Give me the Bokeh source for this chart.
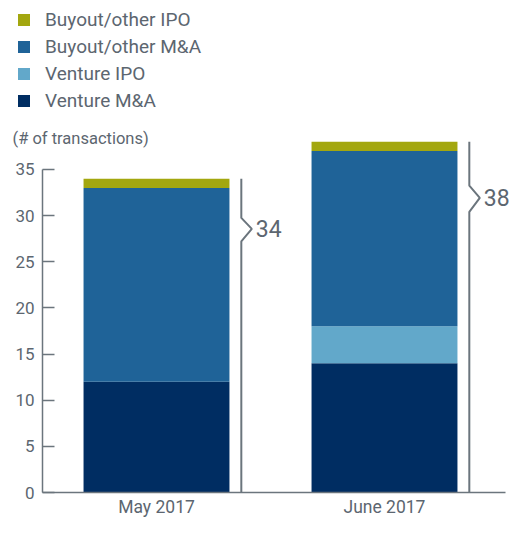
from bokeh.plotting import figure
from bokeh.models import (ColumnDataSource, Range1d, FixedTicker, Legend, LegendItem, Label)
from bokeh.core.properties import value
from bokeh.embed import file_html
from bokeh.resources import INLINE

# ---- data ----
months = ["May 2017", "June 2017"]
venture_ma = [12, 14]
venture_ipo = [0, 4]
buyout_ma = [21, 19]
buyout_ipo = [1, 1]
y_ticks = [0, 5, 10, 15, 20, 25, 30, 35]

series = ["venture_ma", "venture_ipo", "buyout_ma", "buyout_ipo"]
series_labels = ["Venture M&A", "Venture IPO", "Buyout/other M&A", "Buyout/other IPO"]
colors = ["#002d62", "#62a8ca", "#1f6398", "#a3a70f"]

FONT = "Roboto"
TXT = "#5c6670"
LINE = "#6b757d"

xpos = [i + 1 for i in range(len(months))]
totals = [a + b + c + d for a, b, c, d in zip(venture_ma, venture_ipo, buyout_ma, buyout_ipo)]

src = ColumnDataSource(dict(x=xpos, venture_ma=venture_ma, venture_ipo=venture_ipo,
                            buyout_ma=buyout_ma, buyout_ipo=buyout_ipo))

W, H = 515, 521
XU, YU = 228.0, 9.23          # pixels per data unit
x0 = 0.5 - 42 / XU
y0 = -(H - 492) / YU
p = figure(width=W, height=H, output_backend="svg", toolbar_location=None,
           x_range=Range1d(x0, x0 + W / XU), y_range=Range1d(y0, y0 + H / YU),
           min_border=0)
p.outline_line_color = None
p.grid.visible = False
p.background_fill_color = None
p.border_fill_color = "white"

renderers = p.vbar_stack(series, x="x", width=0.64, color=colors, line_color=None, source=src)

# brackets with totals
bx = [x + 0.372 for x in xpos]
for xb, t in zip(bx, totals):
    xs = [xb, xb, xb + 0.046, xb, xb]
    ys = [t, t * 0.875, t * 0.84, t * 0.80, 0]
    p.line(xs, ys, line_color=LINE, line_width=2)
tsrc = ColumnDataSource(dict(x=[x + 0.046 for x in bx], y=[t * 0.84 for t in totals],
                             t=[str(t) for t in totals]))
p.text(x="x", y="y", text="t", source=tsrc, x_offset=4, text_baseline="middle",
       text_font=value(FONT), text_font_size="23px", text_color=TXT)

# axes
xa = p.xaxis[0]
xa.fixed_location = 0
xa.bounds = (0.5, 2.53)
xa.ticker = FixedTicker(ticks=xpos)
xa.major_label_overrides = {x: m for x, m in zip(xpos, months)}
xa.major_tick_line_color = None
xa.major_tick_out = 0
xa.major_tick_in = 0
xa.minor_tick_line_color = None
xa.axis_line_color = LINE
xa.axis_line_width = 1.5
xa.major_label_text_font = FONT
xa.major_label_text_font_size = "17.5px"
xa.major_label_text_color = TXT
xa.major_label_standoff = 4

ya = p.yaxis[0]
ya.fixed_location = 0.5
ya.bounds = (0, 35)
ya.ticker = FixedTicker(ticks=y_ticks)
ya.major_tick_in = 12
ya.major_tick_out = 0
ya.major_tick_line_color = LINE
ya.major_tick_line_width = 1.5
ya.minor_tick_line_color = None
ya.axis_line_color = LINE
ya.axis_line_width = 1.5
ya.major_label_text_font = FONT
ya.major_label_text_font_size = "17px"
ya.major_label_text_color = TXT
ya.major_label_standoff = 8

# legend
items = [LegendItem(label=l, renderers=[r]) for l, r in zip(series_labels, renderers)][::-1]
legend = Legend(items=items, location=(16, 409), orientation="vertical",
                glyph_width=15, glyph_height=15, label_height=22, spacing=4,
                label_standoff=14, padding=0, margin=0,
                label_text_font=FONT, label_text_font_size="19px", label_text_color=TXT,
                background_fill_alpha=0, border_line_color=None)
p.add_layout(legend)

p.add_layout(Label(x=12, y=383, x_units="screen", y_units="screen", text="(# of transactions)",
                   text_font=FONT, text_font_size="16.5px", text_color=TXT, text_baseline="middle"))

open("out.html", "w").write(file_html(p, INLINE))
